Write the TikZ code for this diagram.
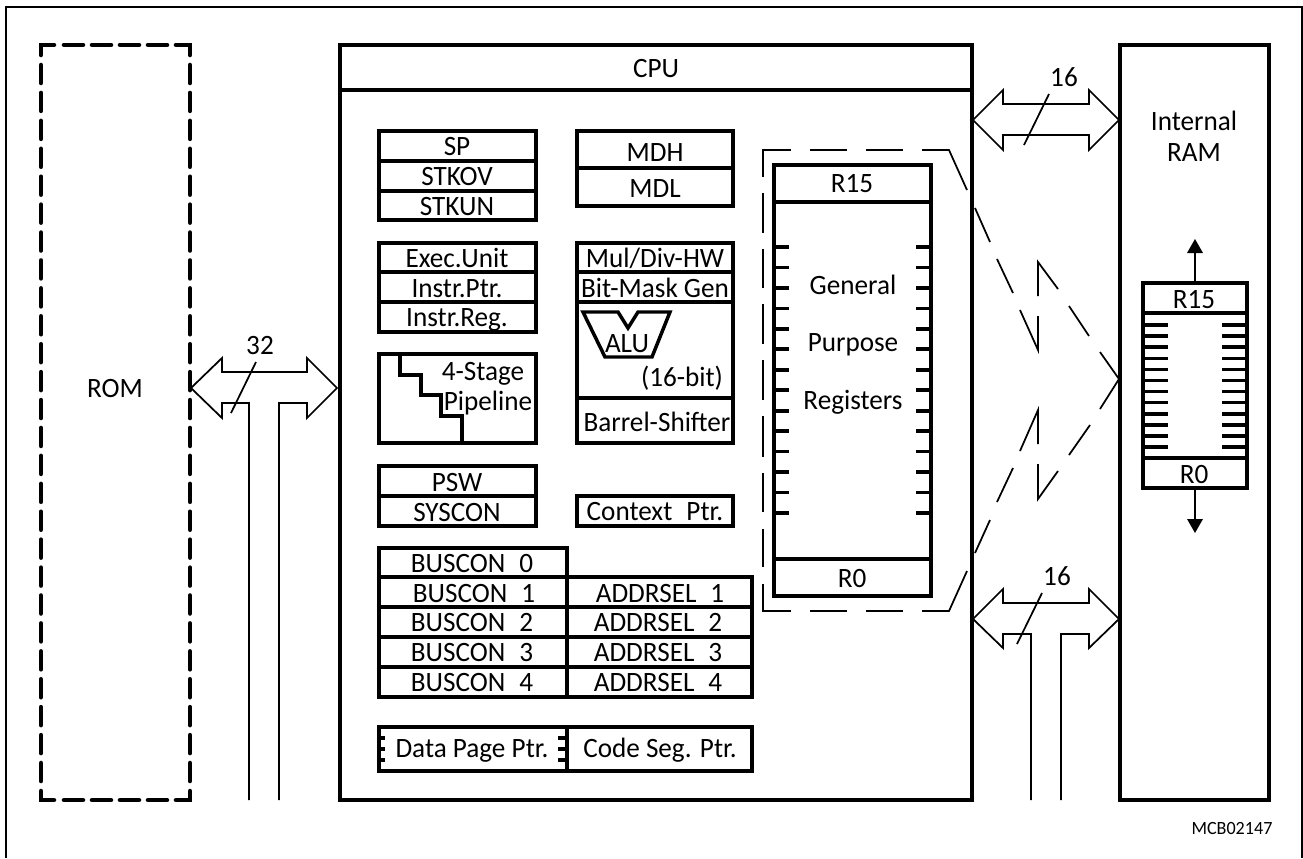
\documentclass[tikz,border=0pt]{standalone}
\usepackage{fontspec}
\setmainfont{Carlito}[FakeStretch=0.97]
\tikzset{
  lab/.style={inner sep=0pt,text height=13.5pt,text depth=0pt,font=\fontsize{21}{21}\selectfont},
  heavy/.style={line width=3.2pt,line join=miter},
  mid/.style={line width=2.6pt,line join=miter},
  thin1/.style={line width=1.3pt,line join=miter},
  frameline/.style={line width=2pt,line join=miter},
  tick/.style={line width=2.8pt},
  rtick/.style={line width=2.6pt},
}
\begin{document}
\begin{tikzpicture}[x=0.75pt,y=-0.75pt]
\useasboundingbox (0,0) rectangle (1303,858);
\fill[white] (0,0) rectangle (1303,858);
% outer frame, open at the bottom
\draw[frameline] (6,858) -- (6,7) -- (1302,7) -- (1302,858);
% ROM dashed box
\begin{scope}[heavy,line cap=round,line width=3.4pt]
\draw (41,55) -- (41,45) -- (54,45);
\foreach \x in {64,92,120,148}{\draw (\x,45) -- (\x+19,45); \draw (\x,800) -- (\x+19,800);}
\draw (176,45) -- (190,45) -- (190,55);
\draw (41,791) -- (41,800) -- (54,800);
\draw (176,800) -- (190,800) -- (190,791);
\foreach \k in {0,...,25}{
  \draw (41,{65+27.92*\k}) -- (41,{65+27.92*\k+18});
  \draw (190,{65+27.92*\k}) -- (190,{65+27.92*\k+18});
}
\end{scope}
\node[lab] (rom) at (115,388) {ROM};
% CPU and RAM
\draw[heavy] (340,45) rectangle (972,800);
\draw[heavy] (340,90) -- (972,90);
\node[lab] (cpu) at (656,68) {CPU};
\draw[heavy] (1120,45) rectangle (1269,800);
\node[lab] (iram) at (1194,121) {Internal};
\node[lab] (ram) at (1194,152) {RAM};
% bus arrows
\draw[thin1] (1003,104) -- (1003,90) -- (973,120) -- (1003,150) -- (1003,135) -- (1089,135) -- (1089,150) -- (1119,120) -- (1089,90) -- (1089,104) -- cycle;
\draw[thin1] (1049,94) -- (1024,145);
\node[lab] (n16a) at (1064,77) {16};
\draw[thin1] (1031,800) -- (1031,634) -- (1003,634) -- (1003,648) -- (973,619) -- (1003,589) -- (1003,603) -- (1089,603) -- (1089,589) -- (1119,619) -- (1089,648) -- (1089,634) -- (1061,634) -- (1061,800);
\draw[thin1] (1042,593) -- (1017,644);
\node[lab] (n16b) at (1057,576) {16};
\draw[thin1] (249,800) -- (249,403) -- (222,403) -- (222,418) -- (191,388) -- (222,358) -- (222,372) -- (307,372) -- (307,358) -- (337,388) -- (307,418) -- (307,403) -- (279,403) -- (279,800);
\draw[thin1] (256,362) -- (231,413);
\node[lab] (n32) at (260,345) {32};
% dashed register window
\begin{scope}[thin1,line cap=butt]
\draw (763,177) -- (763,150) -- (791,150);
\draw (810,150) -- (847,150) (866,150) -- (903,150);
\draw (922,150) -- (949,150) -- (967,190);
\draw (975,208) -- (990,242) (997,259) -- (1013,293);
\draw (1020,310) -- (1038,350) -- (1038,316);
\draw (1038,296) -- (1038,262) -- (1058,289);
\draw (1069,306) -- (1089,336);
\draw (1100,352) -- (1119,379) -- (1100,409);
\draw (1090,425) -- (1069,455);
\draw (1058,471) -- (1038,499) -- (1038,464);
\draw (1038,444) -- (1038,410) -- (1020,451);
\draw (1013,468) -- (997,502) (990,520) -- (975,553);
\draw (967,571) -- (949,611) -- (922,611);
\draw (903,611) -- (866,611) (847,611) -- (810,611);
\draw (791,611) -- (763,611) -- (763,584);
\draw (763,193) -- (763,233) (763,249) -- (763,288) (763,304) -- (763,344) (763,360) -- (763,400);
\draw (763,416) -- (763,457) (763,473) -- (763,512) (763,529) -- (763,567);
\end{scope}
% general purpose registers
\draw[heavy] (774,165) rectangle (931,596);
\draw[heavy] (774,202) -- (931,202) (774,559) -- (931,559);
\foreach \k in {0,...,13}{
  \draw[tick] (774,{247+20.46*\k}) -- (789,{247+20.46*\k});
  \draw[tick] (916,{247+20.46*\k}) -- (931,{247+20.46*\k});
}
\node[lab] (r15) at (852,183) {R15};
\node[lab] (r0) at (852,578) {R0};
\node[lab] (gen) at (853,285) {General};
\node[lab] (pur) at (853,342) {Purpose};
\node[lab] (reg) at (853,400) {Registers};
% internal RAM register bank
\draw[heavy] (1143,283) rectangle (1247,488);
\draw[mid] (1143,313) -- (1247,313) (1143,458) -- (1247,458);
\foreach \k in {0,...,12}{
  \draw[rtick] (1143,{325+11.1*\k}) -- (1168,{325+11.1*\k});
  \draw[rtick] (1222,{325+11.1*\k}) -- (1247,{325+11.1*\k});
}
\draw[thin1,line width=1.6pt] (1195,283) -- (1195,250);
\fill (1195,239) -- (1203,253) -- (1187,253) -- cycle;
\draw[thin1,line width=1.6pt] (1195,488) -- (1195,522);
\fill (1195,533) -- (1203,519) -- (1187,519) -- cycle;
\node[lab] (br15) at (1194,299) {R15};
\node[lab] (br0) at (1194,474) {R0};
% SP group
\draw[heavy] (379,131) rectangle (536,220);
\draw[mid] (379,161) -- (536,161) (379,191) -- (536,191);
\node[lab] (sp) at (457,146) {SP};
\node[lab] (stkov) at (457,176) {STKOV};
\node[lab] (stkun) at (457,206) {STKUN};
% MD group
\draw[heavy] (577,131) rectangle (733,206);
\draw[mid] (577,168) -- (733,168);
\node[lab] (mdh) at (655,152) {MDH};
\node[lab] (mdl) at (655,188) {MDL};
% exec group
\draw[heavy] (379,243) rectangle (536,332);
\draw[mid] (379,272) -- (536,272) (379,302) -- (536,302);
\node[lab] (exec) at (457,258) {Exec.Unit};
\node[lab] (iptr) at (457,288) {Instr.Ptr.};
\node[lab] (ireg) at (457,317) {Instr.Reg.};
% pipeline
\draw[heavy] (379,354) rectangle (536,443);
\draw[heavy] (400,354) -- (400,375) -- (421,375) -- (421,395) -- (441,395) -- (441,416) -- (462,416) -- (462,443);
\node[lab] (stage) at (483,371) {4-Stage};
\node[lab] (pipe) at (488,401) {Pipeline};
% ALU group
\draw[heavy] (577,243) rectangle (733,443);
\draw[mid] (577,272) -- (733,272) (577,302) -- (733,302) (577,398) -- (733,398);
\draw[mid] (583,312) -- (618,312) -- (628,328) -- (638,312) -- (670,312) -- (652,357) -- (605,357) -- cycle;
\node[lab] (mul) at (655,258) {Mul/Div-HW};
\node[lab] (bit) at (655,288) {Bit-Mask Gen};
\node[lab] (alu) at (627,343) {ALU};
\node[lab] (bits) at (682,377) {(16-bit)};
\node[lab] (barrel) at (657,422) {Barrel-Shifter};
% PSW
\draw[heavy] (379,466) rectangle (536,526);
\draw[mid] (379,496) -- (536,496);
\node[lab] (psw) at (457,482) {PSW};
\node[lab] (syscon) at (457,512) {SYSCON};
% context pointer
\draw[heavy] (577,496) rectangle (733,526);
\node[lab] (ctx) at (655,511) {Context\hspace{0.5em}Ptr.};
% BUSCON / ADDRSEL
\draw[heavy] (379,548) rectangle (567,697);
\draw[heavy] (567,577) rectangle (752,697);
\draw[mid] (379,577) -- (752,577) (379,607) -- (752,607) (379,637) -- (752,637) (379,667) -- (752,667);
\node[lab] (b0) at (472,563) {BUSCON\hspace{0.5em}0};
\node[lab] (b1) at (474,593) {BUSCON\hspace{0.5em}1};
\node[lab] (b2) at (472,622) {BUSCON\hspace{0.5em}2};
\node[lab] (b3) at (472,652) {BUSCON\hspace{0.5em}3};
\node[lab] (b4) at (472,682) {BUSCON\hspace{0.5em}4};
\node[lab] (a1) at (660,593) {ADDRSEL\hspace{0.5em}1};
\node[lab] (a2) at (658,622) {ADDRSEL\hspace{0.5em}2};
\node[lab] (a3) at (658,652) {ADDRSEL\hspace{0.5em}3};
\node[lab] (a4) at (658,682) {ADDRSEL\hspace{0.5em}4};
% page pointers
\draw[heavy] (379,727) rectangle (752,771);
\draw[heavy] (567,727) -- (567,771);
\foreach \y in {738,749,760}{
  \draw[mid] (379,\y) -- (385,\y);
  \draw[mid] (558,\y) -- (567,\y);
}
\node[lab] (dpp) at (472,748) {Data Page Ptr.};
\node[lab] (csp) at (660,748) {Code Seg. Ptr.};
% figure code
\node[inner sep=0pt,text height=9pt,text depth=0pt,font=\fontsize{14}{14}\selectfont] (mcb) at (1232,828) {MCB02147};
\end{tikzpicture}
\end{document}
